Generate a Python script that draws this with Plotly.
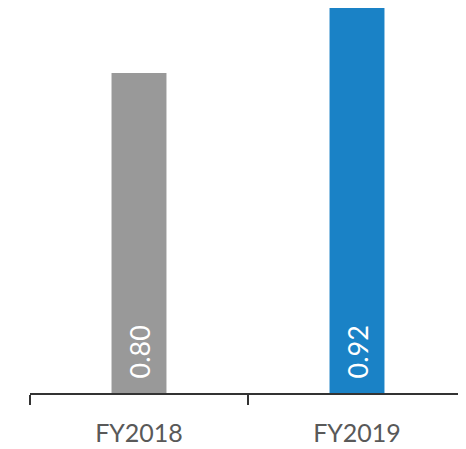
import plotly.graph_objects as go

categories = ["FY2018", "FY2019"]
values = [0.80, 0.92]
labels = ["0.80", "0.92"]
colors = ["#999999", "#1A82C6"]

y_min = 0.209

fig = go.Figure()
fig.add_trace(go.Bar(
    x=categories, y=values, marker_color=colors, marker_line_width=0,
    hoverinfo="x+y",
))
for c, t in zip(categories, labels):
    fig.add_annotation(
        x=c, y=y_min, xref="x", yref="y", text=t, showarrow=False,
        textangle=-90, yanchor="bottom", xanchor="center", yshift=12, xshift=0,
        font=dict(family="Lato", size=27, color="white"),
    )
fig.update_layout(
    width=458, height=441,
    margin=dict(l=22, r=0, t=0, b=56, autoexpand=False),
    paper_bgcolor="white", plot_bgcolor="white",
    bargap=0.748, showlegend=False,
    font=dict(family="Lato"),
)
fig.update_xaxes(
    showline=True, linecolor="#333333", linewidth=1.5,
    ticks="outside", tickson="boundaries", ticklen=10, tickcolor="#333333", tickwidth=1.5,
    tickfont=dict(family="Lato", size=25, color="#595959"),
    ticklabelstandoff=17,
    showgrid=False, zeroline=False,
)
fig.update_yaxes(range=[y_min, 0.92], visible=False, showgrid=False, zeroline=False)
fig.write_html("out.html")
